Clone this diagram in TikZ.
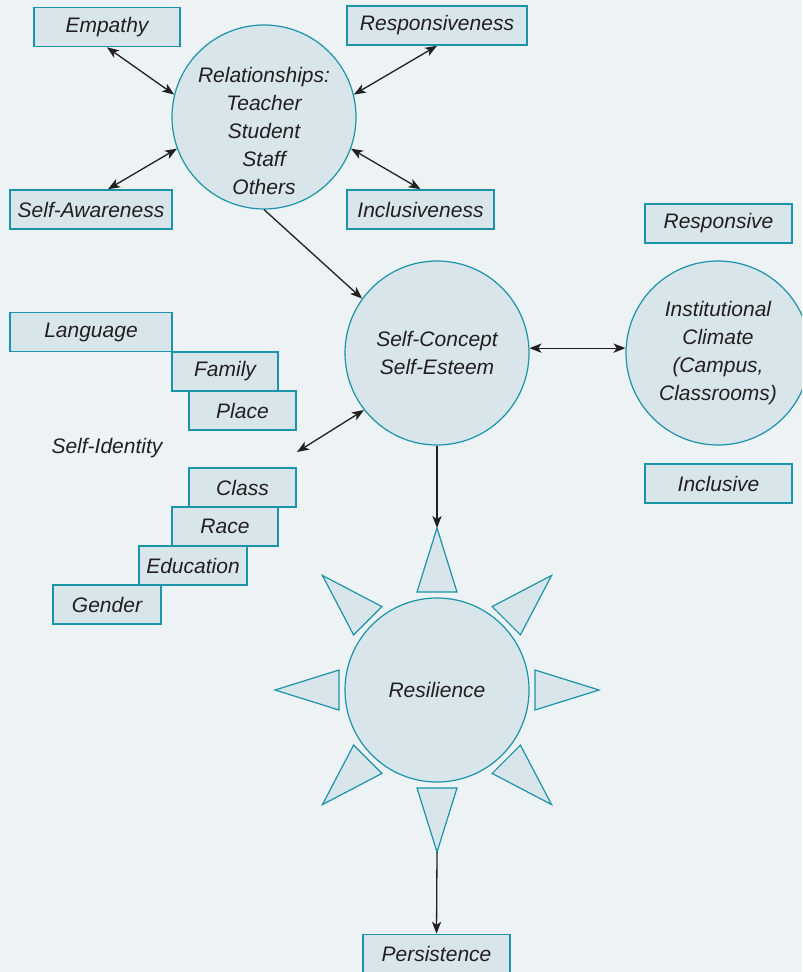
\documentclass[tikz,border=0pt]{standalone}
\usepackage{fontspec}
\setmainfont{Liberation Sans}
\usepackage{tikz}
\usetikzlibrary{shapes.geometric, arrows.meta, positioning}
\definecolor{bgblue}{HTML}{EDF2F5}
\definecolor{boxblue}{HTML}{D8E6EB}
\definecolor{edgeteal}{HTML}{1B93A8}
\definecolor{ink}{HTML}{231F20}
\newcommand{\diagfont}{\fontsize{10.5}{14}\selectfont\itshape}

\begin{document}
\begin{tikzpicture}[x=0.5pt, y=-0.5pt]
		\tikzstyle{box} = [rectangle, minimum height=19.5pt, inner sep=0pt, text centered, draw=edgeteal, fill=boxblue, line width=0.8pt, font=\diagfont, text=ink]
		\tikzstyle{bubble} = [circle, minimum size=92pt, inner sep=0pt, align=center, draw=edgeteal, fill=boxblue, line width=0.6pt, font=\diagfont, text=ink]
		\tikzstyle{txt} = [align=center, inner sep=0pt, font=\diagfont, text=ink]
		\tikzstyle{ray} = [draw=edgeteal, fill=boxblue, line width=0.6pt, line join=miter]
		\tikzstyle{line} = [draw, ink, line width=0.65pt, {Stealth[length=6pt,width=4.6pt,inset=1.6pt]}-{Stealth[length=6pt,width=4.6pt,inset=1.6pt]}]
		\tikzstyle{arrow} = [draw, ink, line width=0.65pt, -{Stealth[length=6pt,width=4.6pt,inset=1.6pt]}]
		% frame
		\useasboundingbox (0,0) rectangle (802,972);
		\clip (0,0) rectangle (802,972);
		\fill[bgblue] (0,0) rectangle (802,972);
		% circles
		\node (rel) [bubble] at (264,117) {};
		\node (reltext) [txt] at (264,131) {Relationships:\\Teacher\\Student\\Staff\\Others};
		\node (sc) [bubble] at (437,353) {Self-Concept\\Self-Esteem};
		\node (ic) [bubble] at (718,353) {Institutional\\Climate\\(Campus,\\Classrooms)};
		\node (res) [bubble] at (437,690) {Resilience};
		% sun rays
		\foreach \a in {0,45,...,315}
		{
			\begin{scope}[shift={(res)}, rotate=\a]
				\path [ray] (98,-20) -- (162,0) -- (98,20) -- cycle;
				\coordinate (tip\a) at (162,0);
			\end{scope}
		}
		% boxes
		\node (emp) [box, minimum width=73pt] at (107,27) {Empathy};
		\node (resp) [box, minimum width=90pt] at (437,25.5) {Responsiveness};
		\node (saw) [box, minimum width=81pt] at (91,209.5) {Self-Awareness};
		\node (incl) [box, minimum width=73.5pt] at (420.5,209.5) {Inclusiveness};
		\node (respv) [box, minimum width=73.5pt] at (718.5,223.5) {Responsive};
		\node (inclv) [box, minimum width=73.5pt] at (718.5,483.5) {Inclusive};
		\node (lang) [box, minimum width=81pt] at (91,332) {Language};
		\node (fam) [box, minimum width=53pt] at (225,371.5) {Family};
		\node (place) [box, minimum width=53.5pt] at (242.5,410.5) {Place};
		\node (sid) [txt] at (107,448) {Self-Identity};
		\node (cls) [box, minimum width=53.5pt] at (242.5,487.5) {Class};
		\node (race) [box, minimum width=53pt] at (225,526.5) {Race};
		\node (edu) [box, minimum width=54pt] at (193,565.5) {Education};
		\node (gen) [box, minimum width=54pt] at (107,604.5) {Gender};
		\node (pers) [box, minimum width=73.5pt] at (436.5,954) {Persistence};
		\coordinate (sidend) at (297,452);

		\path [line] (emp.south) -- (rel.166);
		\path [line] ([xshift=8.5pt]saw.north) -- (rel.200);
		\path [line] (resp.south) -- (rel.14);
		\path [line] (incl.north) -- (rel.-20);
		\path [arrow] (rel.south) -- (sc.144);
		\path [line] (sc.3) -- (ic.177);
		\path [line] (sidend) -- (sc.218);
		\path [arrow] (sc.south) -- (tip90);
		\path [arrow] (tip270) -- (pers.north);

	\end{tikzpicture}
\end{document}
